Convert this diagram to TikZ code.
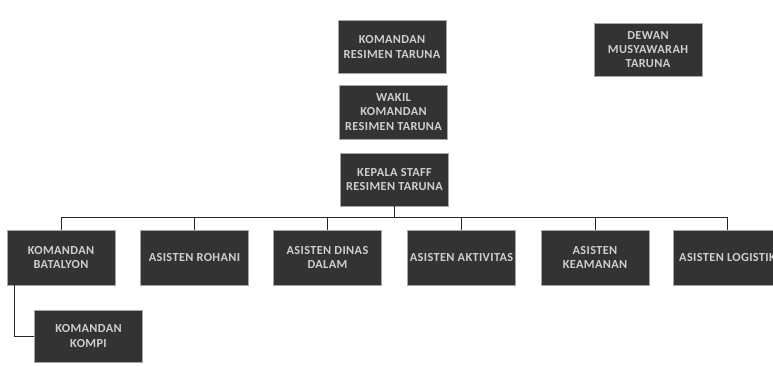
\documentclass[tikz,border=0pt]{standalone}
\usepackage{fontspec}
\setmainfont{Carlito}
\newfontfamily\orgfont{Carlito}[LetterSpace=3]
\usetikzlibrary{positioning}
\definecolor{boxgray}{HTML}{333333}
\definecolor{txtgray}{HTML}{CFCFCF}
\newcommand{\wideline}[1]{\makebox[100pt]{#1}}
\tikzset{
  unit/.style={draw=gray!70, fill=boxgray, text=txtgray, minimum width=108pt,
    minimum height=53pt, inner sep=1pt, align=center,
    font=\orgfont\bfseries\fontsize{12.3}{14.3}\selectfont},
  link/.style={line width=1pt, draw=black!85},
}

\begin{document}
\begin{tikzpicture}[x=1pt,y=-1pt]
\useasboundingbox (0,0) rectangle (773,365);

% --- top column ---
\node[unit] (kdn) at (392,47) {KOMANDAN\\RESIMEN TARUNA};
\node[unit, minimum height=54pt] (wakil) at (393.5,112) {WAKIL\\KOMANDAN\\RESIMEN TARUNA};
\node[unit] (kasf) at (394.5,179.5) {KEPALA STAFF\\RESIMEN TARUNA};
\node[unit] (dewan) at (648,49.5) {DEWAN\\MUSYAWARAH\\TARUNA};

% --- staff row ---
\node[unit, minimum height=55pt] (batalyon) at (61,257.5) {KOMANDAN\\BATALYON};
\node[unit, minimum height=55pt] (rohani) at (194.5,257.5) {ASISTEN ROHANI};
\node[unit, minimum height=55pt] (dinas) at (327.5,257.5) {ASISTEN DINAS\\DALAM};
\node[unit, minimum height=55pt] (aktivitas) at (461.5,257.5) {\wideline{ASISTEN AKTIVITAS}};
\node[unit, minimum height=55pt] (keamanan) at (595,257.5) {ASISTEN\\KEAMANAN};
\node[unit, minimum height=55pt] (logistik) at (727.5,257.5) {\wideline{ASISTEN LOGISTIK}};

\node[unit, minimum height=52pt] (kompi) at (88.5,336) {KOMANDAN\\KOMPI};

% bus line under kepala staff
\coordinate (bus) at (394.5,217);
\draw[link] (kasf.south) -- (kasf.south |- bus);
\draw[link] (batalyon.north |- bus) -- (logistik.north |- bus);
\foreach \u in {batalyon,rohani,dinas,aktivitas,keamanan,logistik}
  \draw[link] (\u.north) -- (\u.north |- bus);

% batalyon to kompi
\draw[link] ([xshift=8pt]batalyon.south west) |- (kompi.west);
\end{tikzpicture}
\end{document}
